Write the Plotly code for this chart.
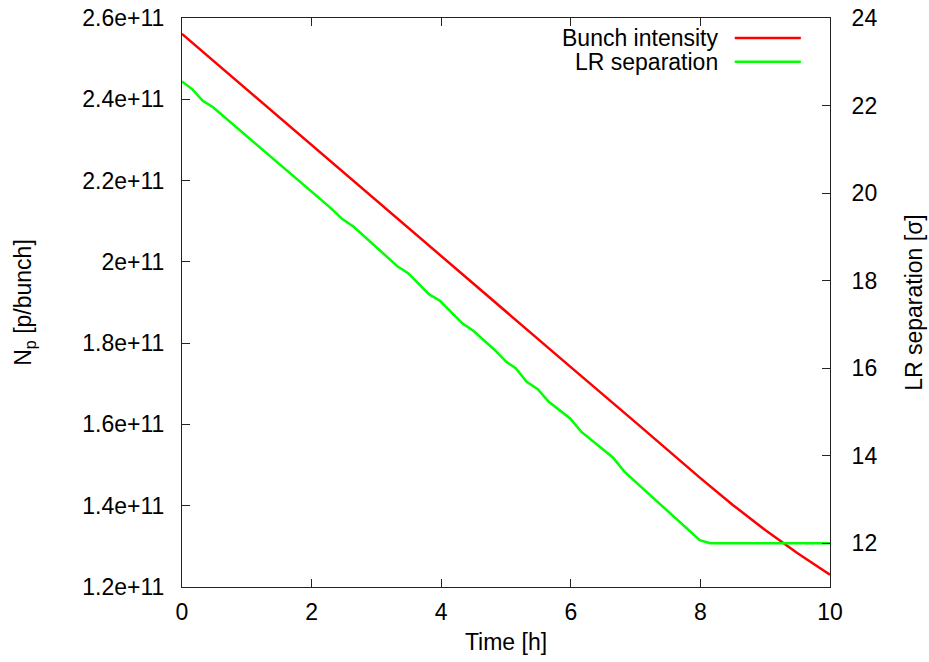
import plotly.graph_objects as go

# ---- data ----
time_red = [0, 1, 2, 3, 4, 5, 6, 7, 8, 8.5, 9, 9.5, 10]
bunch_intensity = [2.561e11, 2.424e11, 2.288e11, 2.151e11, 2.015e11, 1.878e11,
                   1.741e11, 1.605e11, 1.468e11, 1.402e11, 1.340e11, 1.283e11, 1.230e11]

time_green = [0.0, 0.16, 0.32, 0.48, 2.27, 2.48, 2.65, 3.33, 3.49, 3.81, 3.98,
              4.33, 4.49, 4.83, 5.00, 5.15, 5.32, 5.49, 5.66, 5.99, 6.16,
              6.65, 6.83, 7.99, 8.15, 10.0]
lr_separation = [22.55, 22.37, 22.11, 21.96, 19.69, 19.40, 19.23, 18.32, 18.17, 17.69, 17.54,
                 17.02, 16.86, 16.41, 16.15, 16.00, 15.69, 15.52, 15.23, 14.85, 14.55,
                 13.96, 13.63, 12.07, 12.0, 12.0]

y_tick_vals = [1.2e11, 1.4e11, 1.6e11, 1.8e11, 2.0e11, 2.2e11, 2.4e11, 2.6e11]
y_tick_text = ["1.2e+11", "1.4e+11", "1.6e+11", "1.8e+11", "2e+11", "2.2e+11", "2.4e+11", "2.6e+11"]
y2_tick_vals = [12, 14, 16, 18, 20, 22, 24]
x_tick_vals = [0, 2, 4, 6, 8, 10]

series_names = ["Bunch intensity", "LR separation"]
series_colors = ["#ff0000", "#00ff00"]

FONT = "Liberation Sans, Arial, Helvetica, sans-serif"
FS = 23

fig = go.Figure()
fig.add_trace(go.Scatter(x=time_red, y=bunch_intensity, mode="lines",
                         name=series_names[0], line=dict(color=series_colors[0], width=2.5),
                         yaxis="y"))
fig.add_trace(go.Scatter(x=time_green, y=lr_separation, mode="lines",
                         name=series_names[1], line=dict(color=series_colors[1], width=2.5),
                         yaxis="y2"))

axis_common = dict(showgrid=False, zeroline=False, showline=True, linecolor="#222222",
                   linewidth=1, ticks="inside", ticklen=8, tickcolor="#222222",
                   ticklabeloverflow="allow",
                   tickfont=dict(family=FONT, size=FS, color="black"))

fig.update_layout(
    width=929, height=662,
    margin=dict(l=182, r=99, t=18, b=75, autoexpand=False),
    paper_bgcolor="white", plot_bgcolor="white",
    showlegend=False,
    font=dict(family=FONT, size=FS, color="black"),
    xaxis=dict(range=[0, 10], tickvals=x_tick_vals, mirror="ticks",
               ticklabelstandoff=4,
               title=dict(text="Time [h]", standoff=10, font=dict(family=FONT, size=FS)),
               **axis_common),
    yaxis=dict(range=[1.2e11, 2.6e11], tickvals=y_tick_vals, ticktext=y_tick_text,
               ticklabelstandoff=12,
               title=dict(text="N<sub>p</sub> [p/bunch]", standoff=44, font=dict(family=FONT, size=FS)),
               **axis_common),
    yaxis2=dict(range=[11, 24], tickvals=y2_tick_vals, overlaying="y", side="right",
                ticklabelstandoff=16,
                title=dict(text="LR separation [σ]", standoff=29, font=dict(family=FONT, size=FS)),
                **axis_common),
)

# gnuplot-style key: right-justified text followed by a line sample
key_y = [0.965, 0.923]
for i in range(2):
    fig.add_annotation(x=0.830, y=key_y[i], xref="paper", yref="paper", text=series_names[i],
                       showarrow=False, xanchor="right", yanchor="middle",
                       font=dict(family=FONT, size=FS, color="black"))
    fig.add_shape(type="line", xref="paper", yref="paper", x0=0.853, x1=0.955,
                  y0=key_y[i], y1=key_y[i], line=dict(color=series_colors[i], width=2.5))

# remove the default 8px body margin so the figure fills the window exactly
fig.write_html("out.html", config={"displayModeBar": False},
               post_script="document.body.style.margin='0';")
